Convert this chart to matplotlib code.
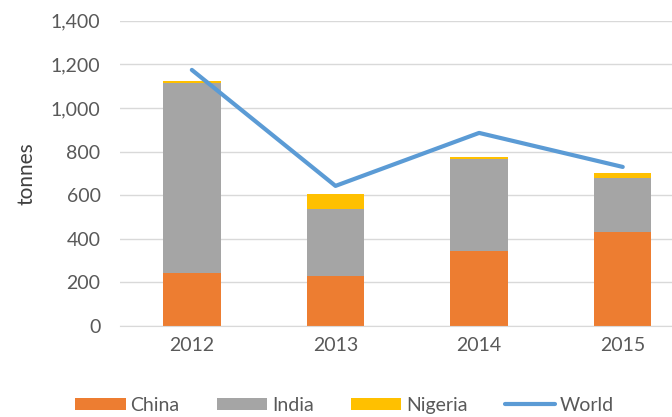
# Stacked bars by country with world total line
import matplotlib.pyplot as plt
from matplotlib.ticker import FuncFormatter

years = ['2012', '2013', '2014', '2015']
china = [242, 231, 346, 433]
india = [875, 305, 420, 245]
nigeria = [5, 68, 11, 23]
world = [1175, 643, 886, 730]

plt.rcParams['font.family'] = ['Lato', 'DejaVu Sans']

fig = plt.figure(figsize=(6.72, 4.17), dpi=100)
ax = fig.add_axes([0.1786, 0.218, 0.84, 0.732])

x = list(range(len(years)))
w = 0.4
b1 = ax.bar(x, china, w, color='#ED7D31', label='China', zorder=2)
bottom2 = [c for c in china]
b2 = ax.bar(x, india, w, bottom=bottom2, color='#A5A5A5', label='India', zorder=2)
bottom3 = [c + i for c, i in zip(china, india)]
b3 = ax.bar(x, nigeria, w, bottom=bottom3, color='#FFC000', label='Nigeria', zorder=2)
ln, = ax.plot(x, world, color='#5B9BD5', lw=3, label='World', zorder=3, solid_capstyle='round')

ax.set_ylim(0, 1400)
ax.set_yticks(range(0, 1401, 200))
ax.yaxis.set_major_formatter(FuncFormatter(lambda v, p: f'{int(v):,}'))
ax.set_xlim(-0.5, 3.43)
ax.set_xticks(x)
ax.set_xticklabels(years)
ax.grid(axis='y', color='#D9D9D9', lw=1, zorder=0)
for s in ['top', 'right', 'left']:
    ax.spines[s].set_visible(False)
ax.spines['bottom'].set_color('#D9D9D9')
ax.tick_params(length=0, labelsize=14, colors='#595959')
ax.tick_params(axis='y', pad=14)
ax.tick_params(axis='x', pad=8)
ax.set_ylabel('tonnes', fontsize=15, color='#404040', labelpad=10)

ax.legend([b1, b2, b3, ln], ['China', 'India', 'Nigeria', 'World'],
          loc='upper center', bbox_to_anchor=(0.398, -0.175), ncol=4, frameon=False,
          fontsize=14, labelcolor='#595959', handlelength=2.6, handleheight=0.6,
          columnspacing=1.9, handletextpad=0.25)

plt.savefig('out.png', dpi=100)
